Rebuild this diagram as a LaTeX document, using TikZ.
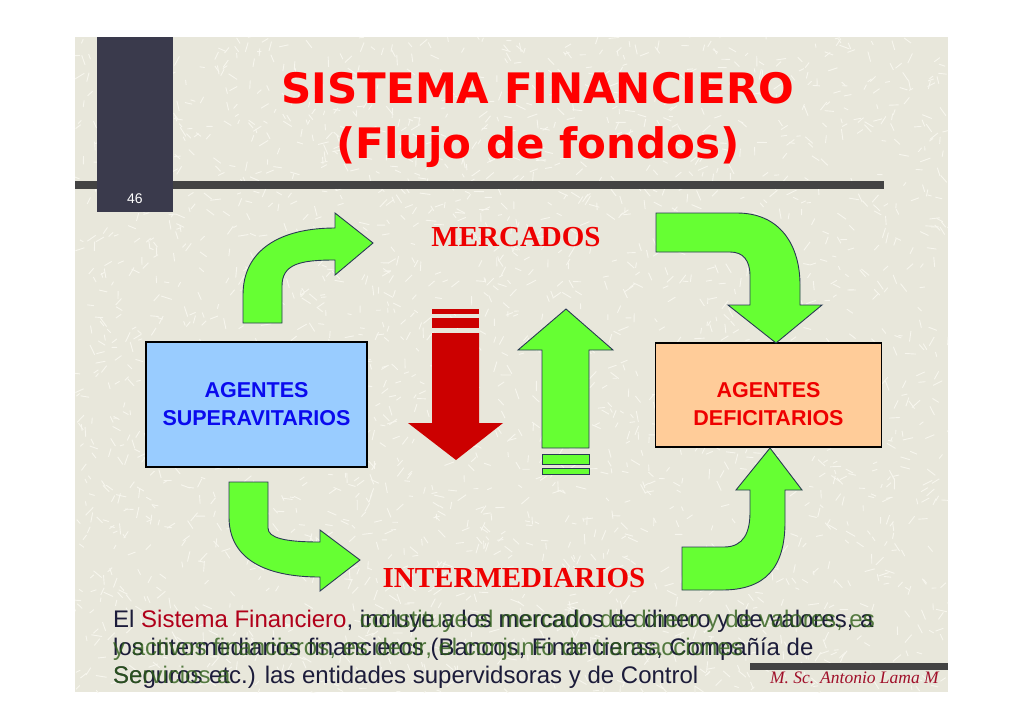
\documentclass[tikz,border=0pt]{standalone}
\usepackage{fontspec}
\setmainfont{Liberation Sans}
\newfontfamily\timesf{Liberation Serif}
\newfontfamily\titlef{DejaVu Sans}
\definecolor{slidebg}{HTML}{E8E7DB}
\definecolor{scratchc}{HTML}{F7F6EE}
\definecolor{vbar}{HTML}{3A3A4C}
\definecolor{hbar}{HTML}{434343}
\definecolor{arrgreen}{HTML}{66FF33}
\definecolor{arrborder}{HTML}{2A3A55}
\definecolor{arrred}{HTML}{CC0000}
\definecolor{boxblue}{HTML}{99CCFF}
\definecolor{boxorange}{HTML}{FFCC99}
\definecolor{txtblue}{HTML}{0A0AEE}
\definecolor{txtred}{HTML}{EE0000}
\definecolor{bodytxt}{HTML}{1C1C3A}
\definecolor{bodygreen}{HTML}{2E5E18}
\definecolor{bodyred}{HTML}{B0001A}
\definecolor{sigred}{HTML}{A0102A}
\tikzset{
  greenarrow/.style={fill=arrgreen, draw=arrborder, line width=0.9pt, line join=miter},
  redarrow/.style={fill=arrred},
  agentbox/.style={draw=black, line width=1.6pt, minimum width=#1, inner sep=0pt},
  agenttxt/.style={align=center, inner sep=0pt, font=\fontsize{21.5}{28}\selectfont\bfseries},
  flowlabel/.style={text=txtred, font=\timesf\bfseries\fontsize{29}{32}\selectfont, inner sep=0pt},
  titletxt/.style={text=red, font=\titlef\bfseries\fontsize{42}{46}\selectfont, inner sep=0pt},
  bodyline/.style={text=bodytxt, font=\fontsize{24}{28}\selectfont, inner sep=0pt, anchor=base west},
  bodyover/.style={text=bodygreen, opacity=0.8, font=\fontsize{24}{28}\selectfont, inner sep=0pt, anchor=base west}
}
\begin{document}
\begin{tikzpicture}[x=1pt,y=-1pt]
\useasboundingbox (0,0) rectangle (1024,726);
\fill[white] (0,0) rectangle (1024,726);
% slide background with scratch texture
\fill[slidebg] (75,37) rectangle (948,692);
\begin{scope}
\clip (75,37) rectangle (948,692);
\pgfmathsetseed{11}
\foreach \i in {1,...,2600}{
  \pgfmathsetmacro{\px}{75+873*rnd}
  \pgfmathsetmacro{\py}{37+655*rnd}
  \pgfmathsetmacro{\pa}{360*rnd}
  \pgfmathsetmacro{\pl}{4+7*rnd}
  \draw[scratchc, line width=0.9pt] (\px,\py) -- ++(\pa:\pl);
}
\end{scope}
% decorative bars
\fill[hbar] (75,181) rectangle (884,189);
\fill[vbar] (97,37) rectangle (173,212);
\node[text=white, font=\fontsize{14}{16}\selectfont, inner sep=0pt] (num) at (135,199) {46};
% title
\node[titletxt, anchor=base] (t1) at (538,103) {SISTEMA FINANCIERO};
\node[titletxt, anchor=base] (t2) at (538,158) {(Flujo de fondos)};
% labels
\node[flowlabel, anchor=base] (merc) at (516,246) {MERCADOS};
\node[flowlabel, anchor=base] (inter) at (514,587) {INTERMEDIARIOS};
% boxes
\node[agentbox=221pt, minimum height=125pt, fill=boxblue] (sup) at (256.5,404.5) {};
\node[agenttxt, text=txtblue] (suptxt) at (256.5,404) {AGENTES\\SUPERAVITARIOS};
\node[agentbox=226pt, minimum height=104pt, fill=boxorange] (def) at (768.5,395) {};
\node[agenttxt, text=txtred] (deftxt) at (768.5,404) {AGENTES\\DEFICITARIOS};
% curved green arrows
\draw[greenarrow] (243,323) -- (243,295) .. controls (243,250) and (280,228) .. (335,228)
  -- (335,213) -- (373,243) -- (335,275) -- (335,260)
  .. controls (300,260) and (282,264) .. (282,286) -- (282,323) -- cycle;
\draw[greenarrow] (656,213) -- (737,213) .. controls (780,213) and (800,245) .. (800,285)
  -- (800,305) -- (822,305) -- (776,343) -- (728,305) -- (750,305) -- (750,276)
  .. controls (750,260) and (743,252) .. (730,252) -- (656,252) -- cycle;
\draw[greenarrow] (229,482) -- (268,482) -- (268,528) .. controls (268,538) and (285,542) .. (320,542)
  -- (320,530) -- (360,560) -- (320,591) -- (320,577)
  .. controls (262,577) and (229,557) .. (229,517) -- cycle;
\draw[greenarrow] (682,547) -- (724,547) .. controls (744,547) and (750,532) .. (750,512)
  -- (750,490) -- (736,490) -- (770,448) -- (802,490) -- (785,490) -- (785,522)
  .. controls (785,568) and (765,590) .. (722,590) -- (682,590) -- cycle;
% red down arrow
\fill[redarrow] (432,309) rectangle (479,314);
\fill[redarrow] (432,318) rectangle (479,328);
\fill[redarrow] (432,333) -- (479,333) -- (479,423) -- (503,423) -- (456,460) -- (408,423) -- (432,423) -- cycle;
% green up arrow
\draw[greenarrow] (566,309) -- (613,350) -- (589,350) -- (589,448) -- (542,448) -- (542,350) -- (518,350) -- cycle;
\draw[greenarrow] (542,454) rectangle (589,464);
\draw[greenarrow] (542,468) rectangle (589,474);
% body text
\node[bodyline] (l1) at (113,627) {El \textcolor{bodyred}{Sistema Financiero}, incluye a los mercados de dinero y de valores, a};
\node[bodyline] (l2) at (113,655) {los intermediarios financieros (Bancos, Financieras, Compañía de};
\node[bodyline] (l3) at (113,683) {Seguros etc.) las entidades supervidsoras y de Control};
\node[bodyover] (g1) at (113,627) {\phantom{El Sistema Financiero, }constituye el mercado de dinero y de valores, es};
\node[bodyover] (g2) at (113,655) {y activos financieros, es decir, el conjunto de transacciones};
\node[bodyover] (g3) at (113,683) {Servicios a};
% signature
\fill[hbar] (750,663) rectangle (948,670);
\node[text=sigred, font=\timesf\itshape\fontsize{17.5}{19}\selectfont, anchor=base east, inner sep=0pt] (sig) at (939,683) {M. Sc. Antonio Lama M};
\end{tikzpicture}
\end{document}
